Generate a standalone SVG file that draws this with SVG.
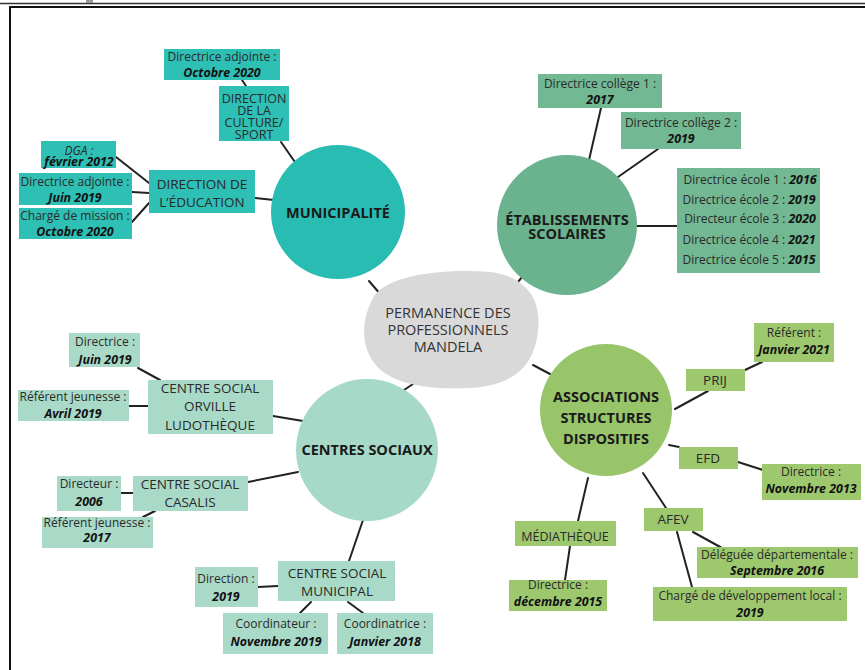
<svg xmlns="http://www.w3.org/2000/svg" width="865" height="670" viewBox="0 0 865 670">
<style>
text{font-family:"Open Sans","Liberation Sans",sans-serif;text-anchor:middle;fill:#2a2a2a}
.s{font-size:12px}
.d{font-size:12.4px;font-weight:bold;font-style:italic;fill:#111}
.n{font-size:13.5px}
.k{font-size:12.5px}
.h{font-size:14.5px;font-weight:bold;fill:#1a1a1a}
.c{font-size:14.5px;fill:#333}
.ln{stroke:#222;stroke-width:2;fill:none;stroke-linecap:round}
.tq{fill:#2ebfb5}
.gr{fill:#72b892}
.lg{fill:#9dc86e}
.lt{fill:#a9dac8}
</style>
<rect width="865" height="670" fill="#fff"/>
<g id="frame">
<line x1="0" y1="3.5" x2="865" y2="3.5" stroke="#333" stroke-width="1.5"/>
<rect x="86" y="0" width="7" height="3" fill="#999"/>
<line x1="9" y1="7" x2="865" y2="7" stroke="#111" stroke-width="2"/>
<line x1="10" y1="7" x2="10" y2="670" stroke="#111" stroke-width="2"/>
</g>
<g id="connectors" class="ln">
<line x1="369" y1="281" x2="381" y2="295"/>
<line x1="513" y1="288" x2="527" y2="271"/>
<line x1="398" y1="394" x2="413" y2="384"/>
<line x1="533" y1="365" x2="550" y2="374"/>
<line x1="242" y1="80" x2="246" y2="86"/>
<line x1="281" y1="142" x2="297" y2="165"/>
<line x1="116" y1="157" x2="149" y2="183"/>
<line x1="132" y1="192" x2="149" y2="193"/>
<line x1="132" y1="222" x2="149" y2="203"/>
<line x1="255" y1="198" x2="274" y2="200"/>
<line x1="601" y1="108" x2="589" y2="160"/>
<line x1="658" y1="149" x2="618" y2="177"/>
<line x1="637" y1="226" x2="677" y2="226"/>
<line x1="138" y1="368" x2="160" y2="380"/>
<line x1="129" y1="406" x2="148" y2="406"/>
<line x1="273" y1="416" x2="303" y2="421"/>
<line x1="121" y1="493" x2="133" y2="493"/>
<line x1="155" y1="511" x2="143" y2="517"/>
<line x1="248" y1="482" x2="298" y2="472"/>
<line x1="363" y1="520" x2="349" y2="561"/>
<line x1="258" y1="587" x2="278" y2="586"/>
<line x1="311" y1="602" x2="300" y2="613"/>
<line x1="348" y1="602" x2="363" y2="613"/>
<line x1="745" y1="370" x2="762" y2="362"/>
<line x1="675" y1="409" x2="708" y2="391"/>
<line x1="669" y1="445" x2="679" y2="447"/>
<line x1="738" y1="462" x2="763" y2="470"/>
<line x1="643" y1="473" x2="666" y2="508"/>
<line x1="693" y1="532" x2="722" y2="548"/>
<line x1="677" y1="532" x2="692" y2="587"/>
<line x1="588" y1="478" x2="578" y2="521"/>
<line x1="570" y1="546" x2="565" y2="580"/>
</g>
<g id="center">
<path d="M372,300 C382,276 440,268 490,272 C526,276 542,300 538,330 C535,362 518,386 468,388 C420,390 386,382 372,360 C360,340 363,318 372,300 Z" fill="#d9d9d9"/>
<text class="c" x="448" y="318">PERMANENCE DES</text>
<text class="c" x="448" y="335">PROFESSIONNELS</text>
<text class="c" x="448" y="352">MANDELA</text>
</g>
<g id="municipalite">
<circle cx="338" cy="212" r="67" fill="#29bcb2"/>
<text class="h" x="338" y="218">MUNICIPALITÉ</text>
</g>
<g id="m-da-oct">
<rect class="tq" x="164" y="49" width="116" height="31"/>
<text class="s" x="222" y="61">Directrice adjointe :</text>
<text class="d" x="222" y="77">Octobre 2020</text>
</g>
<g id="m-culture">
<rect class="tq" x="219" y="86" width="70" height="55"/>
<text class="k" x="254" y="103">DIRECTION</text>
<text class="k" x="254" y="115">DE LA</text>
<text class="k" x="254" y="127">CULTURE/</text>
<text class="k" x="254" y="139">SPORT</text>
</g>
<g id="m-dga">
<rect class="tq" x="41" y="141" width="75" height="27"/>
<text class="s" x="79" y="154.5" font-style="italic">DGA :</text>
<text class="d" x="79" y="166">février 2012</text>
</g>
<g id="m-da-juin">
<rect class="tq" x="19" y="173" width="113" height="32"/>
<text class="s" x="75" y="186">Directrice adjointe :</text>
<text class="d" x="75" y="202">Juin 2019</text>
</g>
<g id="m-charge">
<rect class="tq" x="19" y="208" width="113" height="31"/>
<text class="s" x="75" y="220">Chargé de mission :</text>
<text class="d" x="75" y="236">Octobre 2020</text>
</g>
<g id="m-education">
<rect class="tq" x="149" y="170" width="106" height="43"/>
<text class="n" x="202" y="188.5">DIRECTION DE</text>
<text class="n" x="202" y="207">L’ÉDUCATION</text>
</g>
<g id="etablissements">
<circle cx="567" cy="225" r="70" fill="#6bb38e"/>
<text class="h" x="567" y="225">ÉTABLISSEMENTS</text>
<text class="h" x="567" y="239">SCOLAIRES</text>
</g>
<g id="e-college1">
<rect class="gr" x="538" y="74" width="124" height="34"/>
<text class="s" x="600" y="88">Directrice collège 1 :</text>
<text class="d" x="600" y="104">2017</text>
</g>
<g id="e-college2">
<rect class="gr" x="621" y="112" width="120" height="37"/>
<text class="s" x="681" y="127">Directrice collège 2 :</text>
<text class="d" x="681" y="143">2019</text>
</g>
<g id="e-ecoles">
<rect class="gr" x="677" y="168" width="143" height="105"/>
<text class="s" x="750" y="184">Directrice école 1 : <tspan class="d">2016</tspan></text>
<text class="s" x="749" y="204">Directrice école 2 : <tspan class="d">2019</tspan></text>
<text class="s" x="750" y="223">Directeur école 3 : <tspan class="d">2020</tspan></text>
<text class="s" x="749" y="244">Directrice école 4 : <tspan class="d">2021</tspan></text>
<text class="s" x="749" y="264">Directrice école 5 : <tspan class="d">2015</tspan></text>
</g>
<g id="centres">
<circle cx="367" cy="450" r="71" fill="#a6d9c8"/>
<text class="h" x="367" y="455">CENTRES SOCIAUX</text>
</g>
<g id="c-directrice">
<rect class="lt" x="69" y="333" width="71" height="34"/>
<text class="s" x="105" y="346">Directrice :</text>
<text class="d" x="105" y="364">Juin 2019</text>
</g>
<g id="c-ref-avril">
<rect class="lt" x="18" y="390" width="111" height="31"/>
<text class="s" x="73" y="401">Référent jeunesse :</text>
<text class="d" x="73" y="418">Avril 2019</text>
</g>
<g id="c-orville">
<rect class="lt" x="148" y="380" width="125" height="54"/>
<text class="n" x="210" y="393">CENTRE SOCIAL</text>
<text class="n" x="210" y="411">ORVILLE</text>
<text class="n" x="210" y="430">LUDOTHÈQUE</text>
</g>
<g id="c-directeur">
<rect class="lt" x="57" y="476" width="64" height="35"/>
<text class="s" x="89" y="488">Directeur :</text>
<text class="d" x="89" y="506">2006</text>
</g>
<g id="c-casalis">
<rect class="lt" x="133" y="476" width="115" height="35"/>
<text class="n" x="190" y="489">CENTRE SOCIAL</text>
<text class="n" x="190" y="507">CASALIS</text>
</g>
<g id="c-ref-2017">
<rect class="lt" x="42" y="517" width="111" height="31"/>
<text class="s" x="97" y="527">Référent jeunesse :</text>
<text class="d" x="97" y="542">2017</text>
</g>
<g id="c-direction">
<rect class="lt" x="195" y="567" width="63" height="40"/>
<text class="s" x="226" y="583">Direction :</text>
<text class="d" x="226" y="601">2019</text>
</g>
<g id="c-municipal">
<rect class="lt" x="278" y="561" width="117" height="40"/>
<text class="n" x="337" y="578">CENTRE SOCIAL</text>
<text class="n" x="337" y="596">MUNICIPAL</text>
</g>
<g id="c-coordinateur">
<rect class="lt" x="223" y="613" width="105" height="41"/>
<text class="s" x="276" y="628">Coordinateur :</text>
<text class="d" x="276" y="646">Novembre 2019</text>
</g>
<g id="c-coordinatrice">
<rect class="lt" x="337" y="613" width="96" height="41"/>
<text class="s" x="385" y="628">Coordinatrice :</text>
<text class="d" x="385" y="646">Janvier 2018</text>
</g>
<g id="associations">
<circle cx="606" cy="410" r="66" fill="#98c46a"/>
<text class="h" x="606" y="402">ASSOCIATIONS</text>
<text class="h" x="606" y="423">STRUCTURES</text>
<text class="h" x="606" y="444">DISPOSITIFS</text>
</g>
<g id="a-referent">
<rect class="lg" x="754" y="323" width="80" height="39"/>
<text class="s" x="794" y="337">Référent :</text>
<text class="d" x="794" y="354">Janvier 2021</text>
</g>
<g id="a-prij">
<rect class="lg" x="686" y="369" width="59" height="22"/>
<text class="n" x="715" y="385">PRIJ</text>
</g>
<g id="a-efd">
<rect class="lg" x="679" y="447" width="59" height="22"/>
<text class="n" x="708" y="463">EFD</text>
</g>
<g id="a-directrice-nov">
<rect class="lg" x="762" y="464" width="99" height="36"/>
<text class="s" x="811" y="476">Directrice :</text>
<text class="d" x="811" y="493">Novembre 2013</text>
</g>
<g id="a-afev">
<rect class="lg" x="644" y="508" width="59" height="23"/>
<text class="n" x="673" y="524">AFEV</text>
</g>
<g id="a-mediatheque">
<rect class="lg" x="515" y="521" width="101" height="25"/>
<text class="k" x="565" y="541">MÉDIATHÈQUE</text>
</g>
<g id="a-directrice-dec">
<rect class="lg" x="509" y="580" width="98" height="31"/>
<text class="s" x="558" y="589">Directrice :</text>
<text class="d" x="558" y="606">décembre 2015</text>
</g>
<g id="a-deleguee">
<rect class="lg" x="697" y="547" width="161" height="31"/>
<text class="s" x="777" y="559">Déléguée départementale :</text>
<text class="d" x="777" y="575">Septembre 2016</text>
</g>
<g id="a-charge-dev">
<rect class="lg" x="653" y="587" width="194" height="34"/>
<text class="s" x="750" y="600">Chargé de développement local :</text>
<text class="d" x="750" y="617">2019</text>
</g>
</svg>
